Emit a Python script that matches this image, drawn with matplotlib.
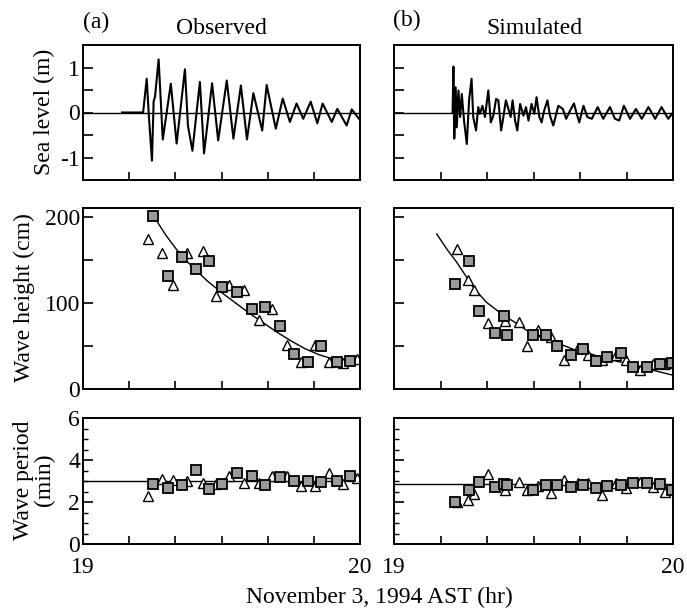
import matplotlib
matplotlib.use("Agg")
import matplotlib.pyplot as plt
import numpy as np

plt.rcParams['font.family'] = ['Liberation Serif', 'DejaVu Serif']
plt.rcParams['font.size'] = 17

# ---------------- data ----------------
# Sea level, observed (time in hours, level in m)
obs_sl_t = [19.141, 19.217, 19.230, 19.238, 19.249, 19.255, 19.260, 19.273, 19.288, 19.317,
            19.338, 19.368, 19.379, 19.395, 19.422, 19.437, 19.466, 19.488, 19.519, 19.543,
            19.570, 19.592, 19.615, 19.647, 19.663, 19.696, 19.721, 19.747, 19.771, 19.795,
            19.822, 19.846, 19.865, 19.898, 19.918, 19.952, 19.970, 20.000]
obs_sl_v = [0.0, 0.0, 0.75, -0.10, -1.07, 0.25, 0.35, 1.18, -0.60, 0.64,
            -0.69, 0.96, -0.30, -0.85, 0.68, -0.91, 0.65, -0.62, 0.71, -0.58,
            0.60, -0.60, 0.43, -0.40, 0.61, -0.36, 0.31, -0.21, 0.20, -0.14,
            0.24, -0.24, 0.20, -0.21, 0.08, -0.29, 0.07, -0.17]

# Sea level, simulated
sim_sl_t = [19.210, 19.213, 19.216, 19.221, 19.225, 19.231, 19.237, 19.243, 19.251, 19.261,
            19.269, 19.278, 19.284, 19.294, 19.302, 19.308, 19.317, 19.326, 19.338, 19.347,
            19.356, 19.366, 19.374, 19.384, 19.392, 19.401, 19.410, 19.418, 19.425, 19.434,
            19.442, 19.452, 19.464, 19.473, 19.482, 19.493, 19.503, 19.511, 19.521, 19.529,
            19.538, 19.550, 19.559, 19.571, 19.589, 19.605, 19.617, 19.631, 19.645, 19.655,
            19.664, 19.679, 19.693, 19.709, 19.730, 19.750, 19.774, 19.792, 19.807, 19.824,
            19.846, 19.867, 19.888, 19.912, 19.936, 19.959, 19.983, 20.000]
sim_sl_v = [0.0, 1.02, -0.58, 0.56, -0.33, 0.49, -0.10, 0.41, -0.18, -0.70,
            0.27, 0.75, -0.10, -0.40, 0.12, -0.03, 0.15, -0.10, 0.49, -0.22,
            -0.07, 0.30, 0.27, -0.40, -0.10, 0.27, 0.08, -0.10, 0.27, -0.18,
            -0.40, 0.19, -0.07, 0.12, -0.18, 0.19, -0.03, 0.34, -0.10, -0.22,
            0.04, 0.27, -0.07, -0.29, 0.15, 0.08, -0.14, 0.04, 0.20, -0.03,
            -0.22, 0.15, -0.10, -0.14, 0.12, -0.14, 0.12, -0.14, -0.18, 0.15,
            -0.14, 0.08, -0.14, 0.12, -0.14, 0.12, -0.14, 0.00]

# Observed: squares and triangles (times), wave heights (cm), periods (min)
obs_sq_t = [19.254, 19.306, 19.356, 19.407, 19.456, 19.503, 19.555, 19.609, 19.657, 19.711,
            19.763, 19.813, 19.859, 19.916, 19.964]
obs_sq_h = [200.7, 131.5, 152.6, 139.2, 148.8, 118.0, 112.2, 93.0, 95.7, 72.7,
            40.4, 30.8, 50.0, 30.8, 32.6]
obs_sq_p = [2.86, 2.65, 2.81, 3.52, 2.62, 2.86, 3.37, 3.24, 2.81, 3.21,
            3.02, 3.02, 2.97, 3.02, 3.24]
obs_tr_t = [19.236, 19.284, 19.326, 19.377, 19.434, 19.479, 19.527, 19.582, 19.636, 19.683,
            19.735, 19.787, 19.838, 19.889, 19.937, 19.988]
obs_tr_h = [174.5, 157.7, 120.8, 157.7, 160.3, 107.6, 121.1, 115.3, 79.6, 92.3,
            51.6, 31.5, 51.6, 30.8, 29.6, 34.3]
obs_tr_p = [2.29, 3.08, 3.05, 3.02, 2.89, 2.84, 3.24, 2.89, 2.92, 3.24,
            3.24, 2.76, 2.76, 3.37, 2.86, 3.13]
obs_fit_t = [19.254, 19.30, 19.356, 19.407, 19.45, 19.50, 19.55, 19.60, 19.65, 19.70,
             19.75, 19.80, 19.85, 19.90, 19.95, 20.00]
obs_fit_h = [201, 178, 154, 138, 125, 112, 100, 88, 77, 66,
             56, 47, 40, 35, 31, 29]
obs_mean_period = 3.0

# Simulated
sim_sq_t = [19.219, 19.270, 19.306, 19.362, 19.395, 19.404, 19.497, 19.545, 19.585, 19.633,
            19.679, 19.724, 19.762, 19.814, 19.858, 19.906, 19.953, 19.995]
sim_sq_h = [121.9, 148.0, 90.3, 65.4, 84.6, 63.1, 62.3, 62.3, 49.6, 40.0,
            46.9, 32.6, 37.3, 41.9, 25.7, 25.7, 28.8, 29.6]
sim_sq_p = [2.02, 2.55, 2.97, 2.73, 2.84, 2.80, 2.57, 2.81, 2.81, 2.73,
            2.80, 2.68, 2.76, 2.80, 2.89, 2.89, 2.86, 2.55]
sim_tr_t = [19.225, 19.264, 19.288, 19.338, 19.398, 19.448, 19.478, 19.517, 19.562, 19.609,
            19.658, 19.696, 19.744, 19.797, 19.833, 19.882, 19.929, 19.971]
sim_tr_h = [162.3, 126.5, 115.3, 76.5, 78.5, 77.6, 50.0, 68.0, 60.3, 33.4,
            48.1, 39.2, 33.4, 39.2, 33.4, 21.9, 28.8, 28.8]
sim_tr_p = [1.98, 2.08, 2.37, 3.32, 2.57, 2.97, 2.57, 2.76, 2.44, 3.05,
            2.92, 2.90, 2.33, 2.92, 2.65, 2.95, 2.72, 2.50]
sim_fit_t = [19.153, 19.19, 19.225, 19.284, 19.33, 19.386, 19.43, 19.476, 19.52, 19.571,
             19.62, 19.65, 19.703, 19.75, 19.80, 19.846, 19.90, 19.95, 20.00]
sim_fit_h = [180, 162, 147, 118, 101, 87, 78, 68, 61, 55,
             49, 45, 41, 36, 32, 29.6, 24, 20, 16]
sim_mean_period = 2.85

x_ticks = [19 + i / 6 for i in range(7)]
x_labels = ['19', '', '', '', '', '', '20']

# ---------------- figure ----------------
W, H = 687, 610
fig = plt.figure(figsize=(W / 100, H / 100), dpi=100)

def rect(x0, x1, ytop, ybot):
    return [x0 / W, 1 - ybot / H, (x1 - x0) / W, (ybot - ytop) / H]

cols = [(83, 360), (394, 673)]
rows = [(45, 180), (208, 389), (418, 544)]

axes = [[fig.add_axes(rect(c[0], c[1], r[0], r[1])) for c in cols] for r in rows]

sq_kw = dict(marker='s', ms=6.5, mfc='#9a9a9a', mec='black', mew=1.3, ls='none')
tr_kw = dict(marker='^', ms=7.5, mfc='white', mec='black', mew=1.0, ls='none')

for j in range(2):
    for i in range(3):
        ax = axes[i][j]
        ax.set_xlim(19, 20)
        ax.set_xticks(x_ticks)
        if i == 2:
            ax.set_xticklabels(x_labels)
        else:
            ax.set_xticklabels([])
        ax.tick_params(axis='x', direction='in', length=6, width=1.2, pad=9.5, top=False)
        ax.tick_params(axis='y', direction='in', length=7, width=1.2, pad=2, right=False)
        ax.tick_params(axis='y', which='minor', direction='in', length=3.5, width=1.0, right=False)
        for s in ax.spines.values():
            s.set_linewidth(1.4)

    # top: sea level
    ax = axes[0][j]
    ax.set_ylim(-1.5, 1.5)
    ax.set_yticks([-1, -0.5, 0, 0.5, 1])
    ax.set_yticklabels(['-1', '', '0', '', '1'] if j == 0 else [])
    ax.axhline(0, color='black', lw=1.0)
    if j == 0:
        ax.plot(obs_sl_t, obs_sl_v, color='black', lw=1.5)
    else:
        ax.plot(sim_sl_t, sim_sl_v, color='black', lw=1.5)

    # middle: wave height
    ax = axes[1][j]
    ax.set_ylim(0, 210)
    ax.set_yticks([0, 50, 100, 150, 200])
    ax.set_yticklabels(['0', '', '100', '', '200'] if j == 0 else [])
    if j == 0:
        ax.plot(obs_fit_t, obs_fit_h, color='black', lw=1.0)
        ax.plot(obs_tr_t, obs_tr_h, **tr_kw)
        ax.plot(obs_sq_t, obs_sq_h, **sq_kw)
    else:
        ax.plot(sim_fit_t, sim_fit_h, color='black', lw=1.0)
        ax.plot(sim_tr_t, sim_tr_h, **tr_kw)
        ax.plot(sim_sq_t, sim_sq_h, **sq_kw)

    # bottom: wave period
    ax = axes[2][j]
    ax.set_ylim(0, 6)
    ax.set_yticks([0, 2, 4, 6])
    ax.set_yticks(np.arange(0, 6.01, 0.5), minor=True)
    ax.set_yticklabels(['0', '2', '4', '6'] if j == 0 else [])
    if j == 0:
        ax.axhline(obs_mean_period, color='black', lw=1.0)
        ax.plot(obs_tr_t, obs_tr_p, **tr_kw)
        ax.plot(obs_sq_t, obs_sq_p, **sq_kw)
    else:
        ax.axhline(sim_mean_period, color='black', lw=1.0)
        ax.plot(sim_tr_t, sim_tr_p, **tr_kw)
        ax.plot(sim_sq_t, sim_sq_p, **sq_kw)

# texts
fig.text(83 / W, 1 - 22 / H, '(a)', ha='left', va='center', fontsize=17)
fig.text(221 / W, 1 - 28 / H, 'Observed', ha='center', va='center', fontsize=17)
fig.text(393 / W, 1 - 20 / H, '(b)', ha='left', va='center', fontsize=17)
fig.text(534 / W, 1 - 29 / H, 'Simulated', ha='center', va='center', fontsize=17)

fig.text(44 / W, 1 - 112 / H, 'Sea level (m)', rotation=90, ha='center', va='center', fontsize=17)
fig.text(24 / W, 1 - 298 / H, 'Wave height (cm)', rotation=90, ha='center', va='center', fontsize=17)
fig.text(34 / W, 1 - 480 / H, 'Wave period\n(min)', rotation=90, ha='center', va='center',
         fontsize=17, linespacing=0.95, multialignment='center')
fig.text(379 / W, 1 - 597 / H, 'November 3, 1994 AST (hr)', ha='center', va='center', fontsize=17)

fig.savefig('out.png', dpi=100)
